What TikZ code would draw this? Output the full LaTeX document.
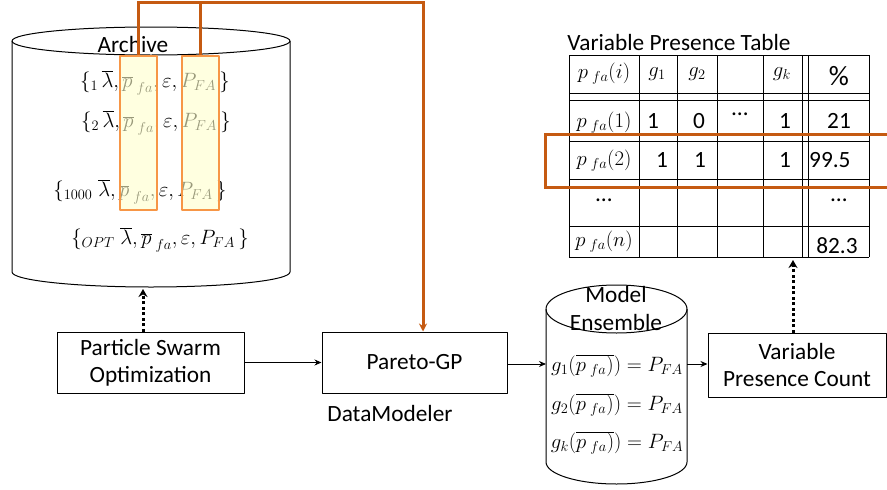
\documentclass[tikz,border=0pt]{standalone}
\usepackage{fontspec}
\setmainfont{Carlito}
\usetikzlibrary{positioning,arrows.meta}
\definecolor{rustline}{RGB}{197,90,17}
\definecolor{hiborder}{RGB}{247,150,70}
\definecolor{hifill}{RGB}{255,255,204}
\begin{document}
\begin{tikzpicture}[x=1pt,y=-1pt,font=\fontsize{23.3}{27}\selectfont, line join=round,
	box/.style={draw,line width=1pt,align=center,inner sep=2pt},
	mathtxt/.style={font=\fontsize{21.5}{25}\selectfont},
	hibox/.style={draw=hiborder,line width=1.5pt,fill=hifill,fill opacity=0.6,inner sep=0pt},
	link/.style={line width=1pt,-{Stealth[length=7pt,width=6pt]}},
	dotlink/.style={line width=3pt,dash pattern=on 3pt off 2.5pt,-{Stealth[length=8pt,width=9pt]}},
	feedback/.style={draw=rustline,line width=3pt,line join=miter},
	tabline/.style={line width=1pt}] %Archive -> PSO -> Pareto-GP -> ensemble -> table
	\useasboundingbox (0,0) rectangle (887,490);
	% archive cylinder
	\draw[line width=1pt] (151,41) ellipse [x radius=139,y radius=14];
	\draw[line width=1pt] (12,41) -- (12,272) arc[start angle=180,end angle=0,x radius=139,y radius=15] -- (290,41);
	\node (archtitle) at (133,44) {Archive};
	\node[mathtxt] (arow1) at (155,83) {$\{_1\,\overline{\lambda},\overline{p}_{\;fa},\varepsilon,P_{FA}\,\}$};
	\node[mathtxt] (arow2) at (156,123) {$\{_2\,\overline{\lambda},\overline{p}_{\;fa},\varepsilon,P_{FA}\,\}$};
	\node[mathtxt] (arow3) at (140,192) {$\{_{1000}\;\overline{\lambda},\overline{p}_{\;fa},\varepsilon,P_{FA}\,\}$};
	\node[mathtxt] (arow4) at (160,240) {$\{_{OPT}\;\overline{\lambda},\overline{p}_{\;fa},\varepsilon,P_{FA}\,\}$};
	\node[hibox,minimum width=37pt,minimum height=154pt] (pfacol) at (138.5,133) {};
	\node[hibox,minimum width=37pt,minimum height=154pt] (PFAcol) at (200.5,133) {};
	\coordinate (arcbot) at (143,289);
	% process boxes
	\node[box,minimum width=187pt,minimum height=61pt] (pso) at (150.5,362.5) {Particle Swarm\\Optimization};
	\node[box,minimum width=185pt,minimum height=61pt] (pgp) at (414.5,362.5) {Pareto-GP};
	\node (dm) at (390,413) {DataModeler};
	\node[box,minimum width=178pt,minimum height=64pt] (vpc) at (797,365) {Variable\\Presence Count};
	% model ensemble cylinder
	\draw[line width=1pt] (616.5,309) ellipse [x radius=70.5,y radius=24];
	\draw[line width=1pt] (546,309) -- (546,462) arc[start angle=180,end angle=0,x radius=70.5,y radius=22] -- (687,309);
	\node[align=center,font=\fontsize{23.3}{28}\selectfont] (enstitle) at (616,308) {Model\\Ensemble};
	\node[mathtxt] (eq1) at (617,366) {$g_1(\overline{p_{\;fa})})=P_{FA}$};
	\node[mathtxt] (eq2) at (617,405) {$g_2(\overline{p_{\;fa})})=P_{FA}$};
	\node[mathtxt] (eqk) at (617,443) {$g_k(\overline{p_{\;fa})})=P_{FA}$};
	\coordinate (ensW) at (546,364);
	\coordinate (ensE) at (687,364);
	% table
	\node (tabtitle) at (679,42) {Variable Presence Table};
	\foreach \x in {569,639,677,717,763,802,808,869}
		\draw[tabline] (\x,55) -- (\x,257);
	\foreach \y in {55,93,100,141,179,226,257}
		\draw[tabline] (569,\y) -- (869,\y);
	\node[mathtxt] (hp) at (604,74) {$p_{\;fa}(i)$};
	\node[mathtxt] (hg1) at (657,74) {$g_1$};
	\node[mathtxt] (hg2) at (697,74) {$g_2$};
	\node[mathtxt] (hgk) at (782,74) {$g_k$};
	\node[font=\fontsize{28}{30}\selectfont] (hpc) at (839,76) {\%};
	\node[mathtxt] (r1p) at (604,123) {$p_{\;fa}(1)$};
	\node (r1a) at (653,121) {1};
	\node (r1b) at (699,121) {0};
	\node (r1c) at (740,114) {\dots};
	\node (r1d) at (785,121) {1};
	\node (r1e) at (839,121) {21};
	\node[mathtxt] (r2p) at (604,161) {$p_{\;fa}(2)$};
	\node (r2a) at (662,160) {1};
	\node (r2b) at (700,160) {1};
	\node (r2d) at (785,160) {1};
	\node[anchor=west,inner sep=1pt] (r2e) at (808,160) {99.5};
	\node (r3p) at (604,200) {\dots};
	\node (r3e) at (839,200) {\dots};
	\node[mathtxt] (r4p) at (604,242) {$p_{\;fa}(n)$};
	\node (r4e) at (837,246) {82.3};
	\coordinate (tabbot) at (793,260);
	% connectors
	\draw[link] (pso) -- (pgp);
	\draw[link] (pgp.east |- ensW) -- (ensW);
	\draw[link] (ensE) -- (vpc.west |- ensE);
	\draw[dotlink] (arcbot |- pso.north) -- (arcbot);
	\draw[dotlink] (tabbot |- vpc.north) -- (tabbot);
	\coordinate (fbtop) at (423,2);
	\draw[feedback,-{Stealth[length=8pt,width=8pt]}] (pfacol.north) |- (fbtop) -- (fbtop |- pgp.north);
	\draw[feedback] (PFAcol.north) -- (PFAcol.north |- fbtop);
	\draw[feedback] (887,134) -| (545,187) -- (887,187);
\end{tikzpicture}
\end{document}
